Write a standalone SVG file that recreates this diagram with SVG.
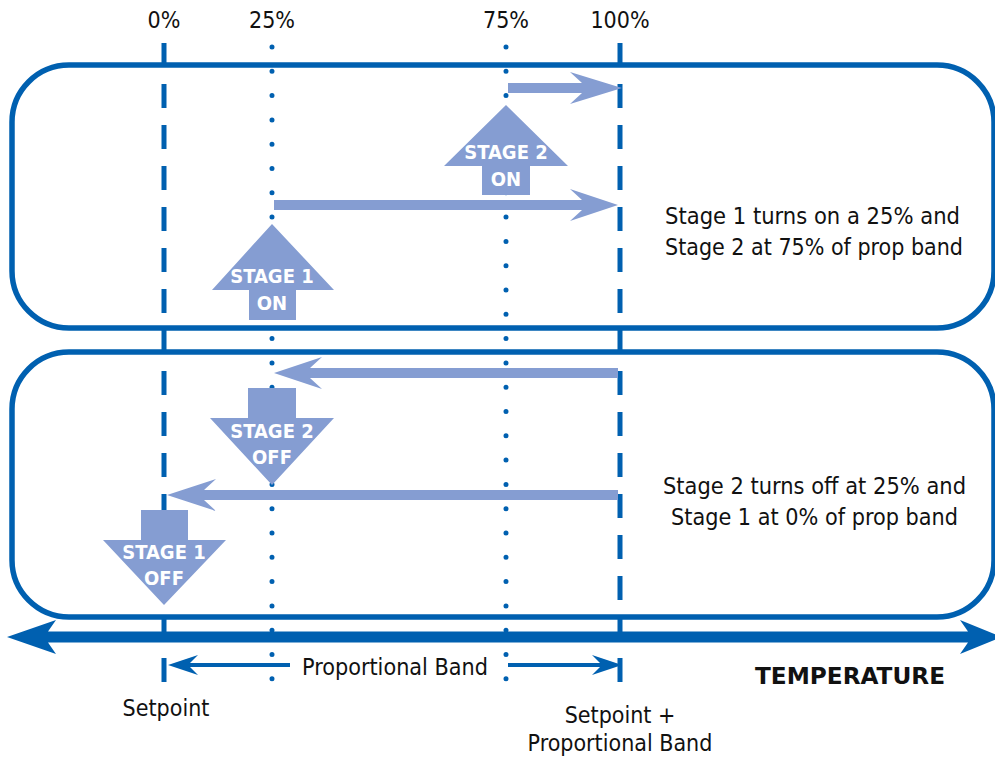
<svg xmlns="http://www.w3.org/2000/svg" width="995" height="757" viewBox="0 0 995 757">
<style>
.t{font-family:"DejaVu Sans Condensed","Liberation Sans",sans-serif;font-stretch:condensed;fill:#111;font-size:23px}
.w{font-family:"DejaVu Sans Condensed","Liberation Sans",sans-serif;font-stretch:condensed;fill:#fff;font-size:20px;font-weight:bold;text-anchor:middle}
.box{fill:none;stroke:#0060b0;stroke-width:5.5}
.dash{stroke:#0060b0;stroke-width:5;stroke-dasharray:24 17;fill:none}
.dot{stroke:#0060b0;stroke-width:5;stroke-linecap:round;stroke-dasharray:0 24.3;fill:none}
.arr{fill:#859dd2}
</style>
<rect width="995" height="757" fill="#fff"/>
<g id="labels">
<text class="t" x="164" y="28" text-anchor="middle">0%</text>
<text class="t" x="272" y="28" text-anchor="middle">25%</text>
<text class="t" x="506" y="28" text-anchor="middle">75%</text>
<text class="t" x="620" y="28" text-anchor="middle">100%</text>
</g>
<g id="box1"><rect class="box" x="12" y="65" width="982" height="263" rx="57"/>
<text class="t" x="665" y="224" textLength="295" lengthAdjust="spacingAndGlyphs">Stage 1 turns on a 25% and</text>
<text class="t" x="665" y="255" textLength="298" lengthAdjust="spacingAndGlyphs">Stage 2 at 75% of prop band</text></g>
<g id="box2"><rect class="box" x="12" y="352" width="982" height="265" rx="57"/>
<text class="t" x="663" y="494" textLength="303" lengthAdjust="spacingAndGlyphs">Stage 2 turns off at 25% and</text>
<text class="t" x="671" y="525" textLength="287" lengthAdjust="spacingAndGlyphs">Stage 1 at 0% of prop band</text></g>
<g id="gridlines">
<line class="dash" x1="164" y1="43" x2="164" y2="692"/>
<line class="dash" x1="620" y1="43" x2="620" y2="692"/>
<line class="dot" x1="272" y1="47" x2="272" y2="700"/>
<line class="dot" x1="506" y1="47" x2="506" y2="700"/>
</g>
<g id="connectors">
<path class="arr" d="M508,83 H582 L570,72 L622,88 L570,104 L582,93 H508 Z"/>
<path class="arr" d="M274,200 H582 L570,189 L618,205 L570,221 L582,210 H274 Z"/>
<path class="arr" d="M618,368 H310 L322,357 L274,373 L322,389 L310,378 H618 Z"/>
<path class="arr" d="M618,490 H204 L216,479 L167,495 L216,511 L204,500 H618 Z"/>
</g>
<g id="stage2on"><path class="arr" d="M506,105 L568,166 H530 V195 H482 V166 H444 Z"/>
<text class="w" x="506" y="159">STAGE 2</text><text class="w" x="506" y="186">ON</text></g>
<g id="stage1on"><path class="arr" d="M272,224 L334,290 H296 V320 H249 V290 H212 Z"/>
<text class="w" x="272" y="283">STAGE 1</text><text class="w" x="272" y="310">ON</text></g>
<g id="stage2off"><path class="arr" d="M248,388 H296 V418 H334 L272,485 L210,418 H248 Z"/>
<text class="w" x="272" y="438">STAGE 2</text><text class="w" x="272" y="464">OFF</text></g>
<g id="stage1off"><path class="arr" d="M141,510 H188 V540 H226 L164,605 L103,540 H141 Z"/>
<text class="w" x="164" y="559">STAGE 1</text><text class="w" x="164" y="585">OFF</text></g>
<g id="axis">
<path fill="#0060b0" d="M7,637 L56,620 L48,631.5 H968 L960,620 L1002,637 L960,654 L968,642.5 H48 L56,654 Z"/>
<path fill="#0060b0" d="M168,665 L198,655 L190,663 H290 V667 H190 L198,675 Z"/>
<path fill="#0060b0" d="M622,665 L592,655 L600,663 H508 V667 H600 L592,675 Z"/>
<text class="t" x="302" y="675" textLength="186" lengthAdjust="spacingAndGlyphs">Proportional Band</text>
<text class="t" x="755" y="684" textLength="190" lengthAdjust="spacingAndGlyphs" font-weight="bold" font-size="29">TEMPERATURE</text>
<text class="t" x="166" y="716" text-anchor="middle">Setpoint</text>
<text class="t" x="620" y="723" text-anchor="middle">Setpoint +</text>
<text class="t" x="620" y="751" text-anchor="middle">Proportional Band</text>
</g>
</svg>
